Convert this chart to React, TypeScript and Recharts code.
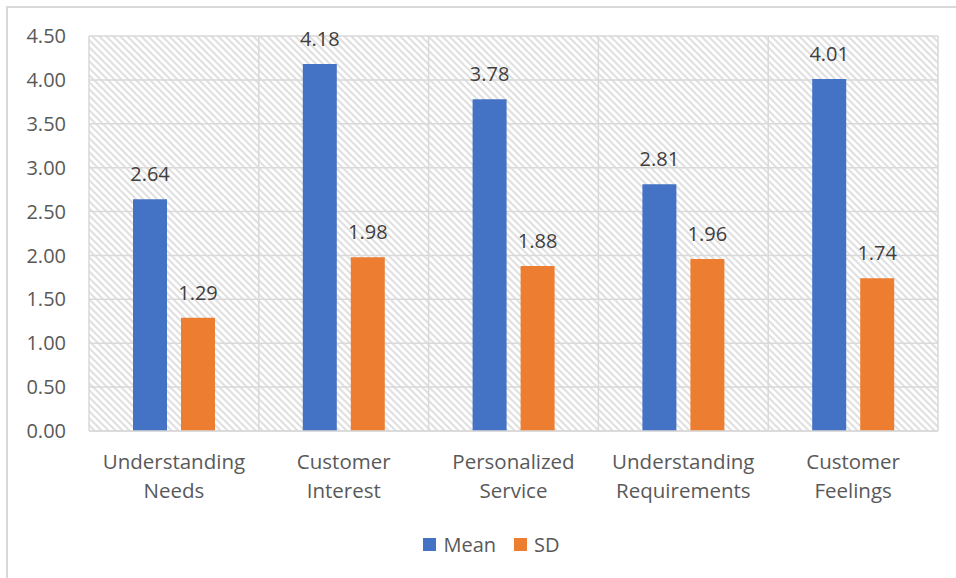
import React from "react";
import { BarChart, Bar, XAxis, YAxis, CartesianGrid, Legend, LabelList } from "recharts";

const categories = [
  "Understanding Needs",
  "Customer Interest",
  "Personalized Service",
  "Understanding Requirements",
  "Customer Feelings",
];
const meanValues = [2.64, 4.18, 3.78, 2.81, 4.01];
const sdValues = [1.29, 1.98, 1.88, 1.96, 1.74];
const yTicks = [0, 0.5, 1, 1.5, 2, 2.5, 3, 3.5, 4, 4.5];

const data = categories.map((c, i) => ({ name: c, Mean: meanValues[i], SD: sdValues[i] }));

const FONT = "'Open Sans', sans-serif";
const AXIS_COLOR = "#595959";
const BLUE = "#4472C4";
const ORANGE = "#ED7D31";

const XTick = (props: any) => {
  const { x, y, payload } = props;
  const words = String(payload.value).split(" ");
  return (
    <g transform={`translate(${x},${y})`}>
      {words.map((w: string, i: number) => (
        <text
          key={i}
          x={0}
          y={38 + i * 29}
          textAnchor="middle"
          fill={AXIS_COLOR}
          fontSize={20.5}
          fontFamily={FONT}
        >
          {w}
        </text>
      ))}
    </g>
  );
};

const LegendContent = () => (
  <div
    style={{
      display: "flex",
      justifyContent: "center",
      alignItems: "center",
      height: 30,
      paddingLeft: 37,
      fontFamily: FONT,
      fontSize: 20,
      color: AXIS_COLOR,
    }}
  >
    {[
      { label: "Mean", color: BLUE },
      { label: "SD", color: ORANGE },
    ].map((it, i) => (
      <div key={i} style={{ display: "flex", alignItems: "center", marginRight: i === 0 ? 18 : 0 }}>
        <span style={{ display: "inline-block", width: 13, height: 13, background: it.color, marginRight: 7 }} />
        <span>{it.label}</span>
      </div>
    ))}
  </div>
);

export default function App() {
  return (
    <div
      style={{
        position: "absolute",
        left: 6,
        top: 6,
        width: 950,
        height: 572,
        boxSizing: "border-box",
        borderLeft: "2px solid #d9d9d9",
        borderTop: "2px solid #d9d9d9",
        background: "#fff",
      }}
    >
      <BarChart
        width={948}
        height={570}
        data={data}
        margin={{ top: 28, right: 18, left: 0, bottom: 19 }}
        barGap={14}
        barSize={34}
      >
        <defs>
          <pattern id="hatch" patternUnits="userSpaceOnUse" width="7" height="7">
            <rect width="7" height="7" fill="#ffffff" />
            <path d="M0,0 L7,7 M-1,6 L1,8 M6,-1 L8,1" stroke="#e0e0e0" strokeWidth="2" />
          </pattern>
        </defs>
        <CartesianGrid
          stroke="#d9d9d9"
          strokeWidth={1.5}
          fill="url(#hatch)"
          fillOpacity={1}
          verticalCoordinatesGenerator={({ offset }: any) =>
            [0, 1, 2, 3, 4, 5].map((i) => offset.left + (i * offset.width) / categories.length)
          }
        />
        <XAxis
          dataKey="name"
          height={98}
          tickLine={false}
          tickSize={0}
          tickMargin={0}
          axisLine={{ stroke: "#d9d9d9", strokeWidth: 1.5 }}
          tick={<XTick />}
          interval={0}
        />
        <YAxis
          width={81}
          domain={[0, 4.5]}
          ticks={yTicks}
          tickFormatter={(v: number) => v.toFixed(2)}
          axisLine={false}
          tickLine={false}
          tickSize={0}
          tickMargin={23}
          tick={{ fill: AXIS_COLOR, fontSize: 20, fontFamily: FONT }}
        />
        <Legend verticalAlign="bottom" height={30} content={<LegendContent />} />
        <Bar dataKey="Mean" fill={BLUE} isAnimationActive={false}>
          <LabelList
            dataKey="Mean"
            position="top"
            offset={18}
            formatter={(v: any) => Number(v).toFixed(2)}
            fill="#404040"
            fontSize={20}
            fontFamily={FONT}
          />
        </Bar>
        <Bar dataKey="SD" fill={ORANGE} isAnimationActive={false}>
          <LabelList
            dataKey="SD"
            position="top"
            offset={18}
            formatter={(v: any) => Number(v).toFixed(2)}
            fill="#404040"
            fontSize={20}
            fontFamily={FONT}
          />
        </Bar>
      </BarChart>
    </div>
  );
}
